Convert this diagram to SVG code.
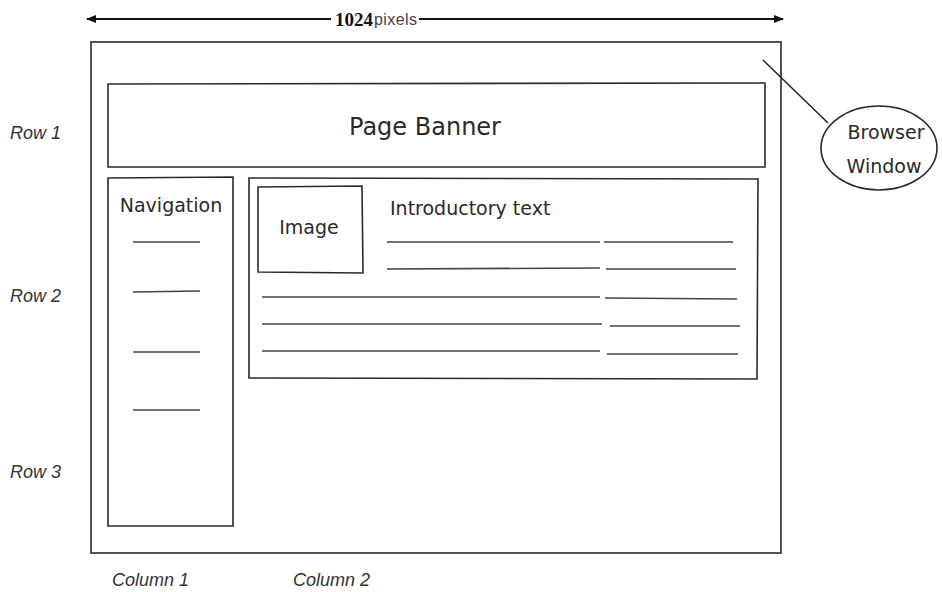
<svg xmlns="http://www.w3.org/2000/svg" width="942" height="592" viewBox="0 0 942 592">
<style>
.box{fill:none;stroke:#2a2a2a;stroke-width:1.6}
.ln{stroke:#444;stroke-width:1.6;fill:none}
.hand{font-family:"DejaVu Sans",sans-serif;fill:#2a2a2a}
.lab{font-family:"Liberation Sans",sans-serif;font-style:italic;fill:#333;font-size:18px}
</style>
<defs>
<marker id="ah" markerWidth="10" markerHeight="8" refX="9" refY="4" orient="auto-start-reverse" markerUnits="userSpaceOnUse">
<path d="M0,0 L10,4 L0,8 Z" fill="#111"/>
</marker>
</defs>
<rect width="942" height="592" fill="#fff"/>
<g id="dimension">
<line x1="87" y1="19" x2="331" y2="19" stroke="#111" stroke-width="1.8" marker-start="url(#ah)"/>
<line x1="419" y1="19" x2="783" y2="19" stroke="#111" stroke-width="1.8" marker-end="url(#ah)"/>
<text x="335" y="26" font-family="Liberation Serif,serif" font-weight="bold" font-size="19" fill="#111">1024</text>
<text x="374" y="25" font-family="Liberation Sans,sans-serif" font-size="16" fill="#444" textLength="43">pixels</text>
</g>
<g id="browser-window">
<rect class="box" x="91" y="42" width="690" height="511"/>
</g>
<g id="page-banner">
<path class="box" d="M108,84 L765,83 L765,167 L108,167 Z"/>
<text class="hand" x="425" y="135" font-size="24" text-anchor="middle">Page Banner</text>
</g>
<g id="navigation">
<path class="box" d="M108,178 L233,177 L233,526 L108,526 Z"/>
<text class="hand" x="171" y="212" font-size="19" text-anchor="middle">Navigation</text>
<line class="ln" x1="133" y1="242" x2="200" y2="242"/>
<line class="ln" x1="133" y1="292" x2="200" y2="291"/>
<line class="ln" x1="133" y1="352" x2="200" y2="352"/>
<line class="ln" x1="133" y1="410" x2="200" y2="410"/>
</g>
<g id="content">
<path class="box" d="M249,178 L758,179 L757,379 L249,378 Z"/>
<text class="hand" x="390" y="215" font-size="19">Introductory text</text>
<line class="ln" x1="387" y1="242" x2="600" y2="242"/>
<line class="ln" x1="604" y1="242" x2="733" y2="242"/>
<line class="ln" x1="387" y1="269" x2="600" y2="268"/>
<line class="ln" x1="606" y1="269" x2="736" y2="269"/>
<line class="ln" x1="262" y1="297" x2="600" y2="297"/>
<line class="ln" x1="605" y1="298" x2="737" y2="299"/>
<line class="ln" x1="262" y1="324" x2="602" y2="324"/>
<line class="ln" x1="610" y1="326" x2="740" y2="326"/>
<line class="ln" x1="262" y1="351" x2="600" y2="351"/>
<line class="ln" x1="607" y1="354" x2="738" y2="354"/>
</g>
<g id="image">
<path class="box" d="M258,187 L362,186 L363,273 L258,272 Z"/>
<text class="hand" x="309" y="234" font-size="19" text-anchor="middle">Image</text>
</g>
<g id="connectors">
<line x1="763" y1="60" x2="828" y2="123" stroke="#222" stroke-width="1.5"/>
</g>
<g id="browser-label">
<ellipse cx="879" cy="148" rx="58" ry="42" class="box"/>
<text class="hand" x="886" y="139" font-size="19" text-anchor="middle">Browser</text>
<text class="hand" x="884" y="173" font-size="19" text-anchor="middle">Window</text>
</g>
<g id="labels">
<text class="lab" x="10" y="139">Row 1</text>
<text class="lab" x="10" y="302">Row 2</text>
<text class="lab" x="10" y="478">Row 3</text>
<text class="lab" x="112" y="586">Column 1</text>
<text class="lab" x="293" y="586">Column 2</text>
</g>
</svg>
